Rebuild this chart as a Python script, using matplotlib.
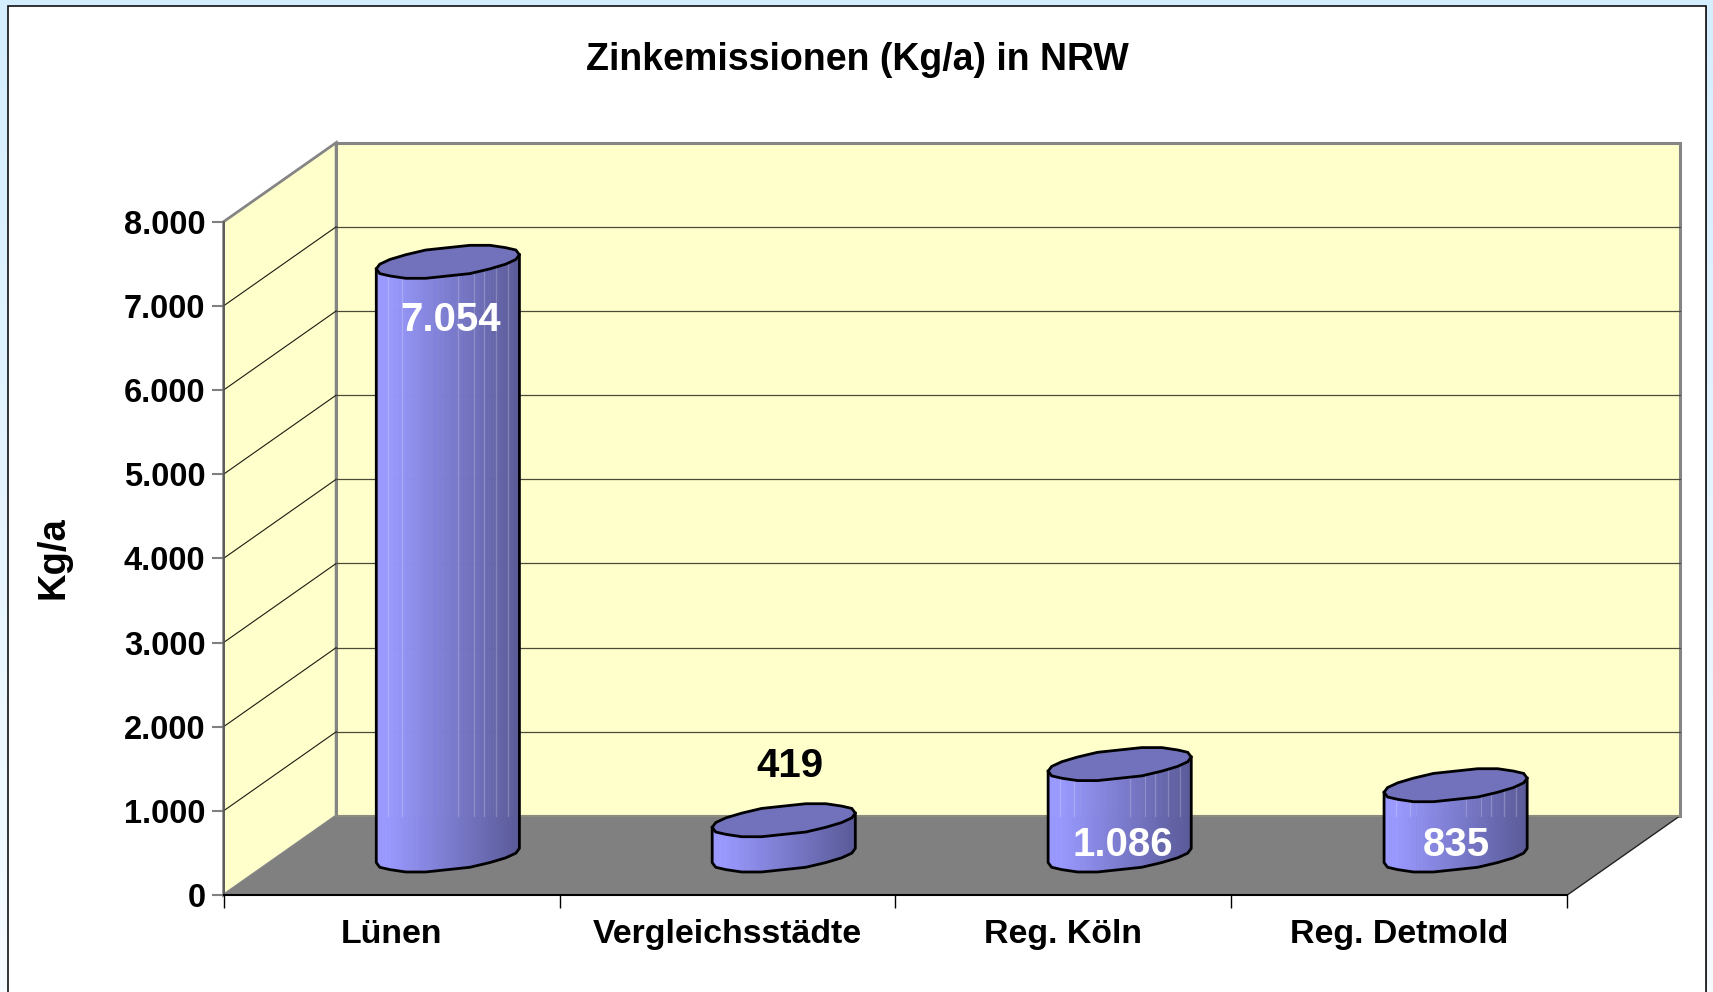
import numpy as np
import matplotlib
matplotlib.use('Agg')
import matplotlib.pyplot as plt
from matplotlib.patches import Polygon, Rectangle

plt.rcParams['font.family'] = ['Liberation Sans', 'DejaVu Sans']

categories = ['Lünen', 'Vergleichsstädte', 'Reg. Köln', 'Reg. Detmold']
values = [7054, 419, 1086, 835]
value_labels = ['7.054', '419', '1.086', '835']
label_colors = ['white', 'black', 'white', 'white']
# label centre relative to the top of the column, in px (right, up)
label_shift_x = [3, 6, 3, 1]
label_shift_y = [-58, 54, -81, -60]
y_ticks = [0, 1000, 2000, 3000, 4000, 5000, 6000, 7000, 8000]
y_tick_labels = ['0', '1.000', '2.000', '3.000', '4.000', '5.000', '6.000', '7.000', '8.000']
# faint seams on the columns, as fraction of the width
seams = [0.08, 0.18, 0.57, 0.68, 0.75, 0.84, 0.92]

W, H = 1713, 992
depth_x = 0.335   # depth of the box in category widths
depth_y = 939     # depth of the box in value units
radius = 0.213
ell_b = 172       # half height of the ellipse, value units
ell_s = 89        # tilt of the ellipse, value units
n_facets = 10     # facets per half of the cylinder
snap = 28         # outline is stepped to this many value units


def ell_y(t):
    # stepped outline, the original cylinders are not smooth
    return np.round((ell_b * np.sin(t) + ell_s * np.cos(t)) / snap) * snap


fig = plt.figure(figsize=(W / 100, H / 100), dpi=100)

# light blue page behind the frame
bg = fig.add_axes([0, 0, 1, 1], zorder=0)
bg.axis('off')
grad = np.linspace(0, 1, 256).reshape(-1, 1, 1)
top_col = np.array([0xD4, 0xEE, 0xFF]) / 255
bot_col = np.array([0xF6, 0xFB, 0xFF]) / 255
bg.imshow(top_col + grad * (bot_col - top_col), aspect='auto', extent=(0, 1, 0, 1))
bg.set_xlim(0, 1)
bg.set_ylim(0, 1)
# white frame, runs off the bottom of the picture
bg.add_patch(Rectangle((10 / W, -0.01), 1697 / W, 1 - 5.5 / H + 0.01, fc='#8a8a8a', ec='none'))
bg.add_patch(Rectangle((7.5 / W, -0.01), 1698 / W, 1 - 5.5 / H + 0.01, fc='white', ec='#111111', lw=1.2))

# axes = front plane of the 3d box
left, right, bottom, top = 223.6, 1567.3, 895, 221.7
ax = fig.add_axes([left / W, 1 - bottom / H, (right - left) / W, (bottom - top) / H], zorder=1)
ax.patch.set_visible(False)
ax.set_xlim(0, len(categories))
ax.set_ylim(0, 8000)
n = len(categories)
wall = '#FFFFCC'
edge = '#858585'

# back wall, side wall, floor
ax.add_patch(Polygon([(depth_x, depth_y), (n + depth_x, depth_y), (n + depth_x, 8000 + depth_y), (depth_x, 8000 + depth_y)],
                     fc=wall, ec=edge, lw=2.2, clip_on=False, zorder=1))
ax.add_patch(Polygon([(0, 0), (depth_x, depth_y), (depth_x, 8000 + depth_y), (0, 8000)],
                     fc=wall, ec=edge, lw=2, clip_on=False, zorder=1))
for v in y_ticks[1:-1]:
    ax.plot([0, depth_x], [v, v + depth_y], color='#1a1a10', lw=0.8, clip_on=False, zorder=2)
    ax.plot([depth_x, n + depth_x], [v + depth_y, v + depth_y], color='#4a4a3a', lw=0.9, clip_on=False, zorder=2)
ax.add_patch(Polygon([(0, 0), (n, 0), (n + depth_x, depth_y), (depth_x, depth_y)],
                     fc='#808080', ec='none', clip_on=False, zorder=3))
ax.plot([n, n + depth_x], [0, depth_y], color='#222222', lw=1, clip_on=False, zorder=3)
ax.plot([depth_x, n + depth_x], [depth_y, depth_y], color='#8c8c80', lw=1.5, clip_on=False, zorder=3)

# cylinders
t_front = np.linspace(np.pi, 2 * np.pi, n_facets + 1)
t_back = np.linspace(0, np.pi, n_facets + 1)
dark = np.array([0x5A, 0x5A, 0x99]) / 255
light = np.array([0x99, 0x99, 0xFF]) / 255
for i, v in enumerate(values):
    cx = i + 0.5 + depth_x / 2
    cy = depth_y / 2
    ex = cx + radius * np.cos(t_front)
    low = cy + ell_y(t_front)
    up = low + v
    xs = np.linspace(ex[0], ex[-1], 60)
    lo_i = np.interp(xs, ex, low)
    up_i = np.interp(xs, ex, up)
    for j in range(len(xs) - 1):
        f = j / (len(xs) - 2)
        f = max(0, (f - 0.08) / 0.92)
        c = light + (dark - light) * f
        ax.fill_between(xs[j:j + 2], lo_i[j:j + 2], up_i[j:j + 2], color=c, lw=0.5, clip_on=False, zorder=4)
    # seams only show above the floor line
    for s in seams:
        sx = ex[0] + s * (ex[-1] - ex[0])
        sy = np.interp(sx, ex, up)
        if sy > depth_y:
            ax.plot([sx, sx], [depth_y, sy], color='white', alpha=0.22, lw=0.9, clip_on=False, zorder=4.5)
    # side outline
    ax.plot(np.r_[ex[0], ex, ex[-1]], np.r_[up[0], low, up[-1]], color='black', lw=2, clip_on=False, zorder=5)
    # top ellipse
    tt = np.r_[t_front, t_back[1:]]
    ax.add_patch(Polygon(np.c_[cx + radius * np.cos(tt), cy + v + ell_y(tt)],
                         fc='#7272BC', ec='black', lw=2, clip_on=False, zorder=6))
    ax.annotate(value_labels[i], (cx, cy + v), xytext=(label_shift_x[i] * 0.72, label_shift_y[i] * 0.72),
                textcoords='offset points', ha='center', va='center', color=label_colors[i],
                fontsize=29, fontweight='bold', annotation_clip=False, zorder=7)

# real axes for the ticks
for s in ['top', 'right']:
    ax.spines[s].set_visible(False)
ax.spines['left'].set_color('#555555')
ax.spines['left'].set_linewidth(1.2)
ax.spines['bottom'].set_color('black')
ax.spines['bottom'].set_linewidth(1.5)
ax.spines['left'].set_zorder(4)
ax.spines['bottom'].set_zorder(4)
ax.set_yticks(y_ticks)
ax.set_yticklabels(y_tick_labels, fontsize=23.5, fontweight='bold')
ax.tick_params(axis='y', length=9, width=1.5, color='#808080', pad=4)
ax.set_xticks(range(n + 1))
ax.set_xticklabels([])
ax.tick_params(axis='x', length=9, width=1, color='black')
ax.set_xticks(np.arange(n) + 0.5, minor=True)
ax.set_xticklabels(categories, minor=True, fontsize=24.4, fontweight='bold')
ax.tick_params(axis='x', which='minor', length=0, pad=17)

fig.text(857 / W, 1 - 60 / H, 'Zinkemissionen (Kg/a) in NRW', ha='center', va='center', fontsize=27, fontweight='bold')
fig.text(54 / W, 1 - 558 / H, 'Kg/a', ha='center', va='center', rotation=90, fontsize=27.5, fontweight='bold')

fig.savefig('out.png', dpi=100)
